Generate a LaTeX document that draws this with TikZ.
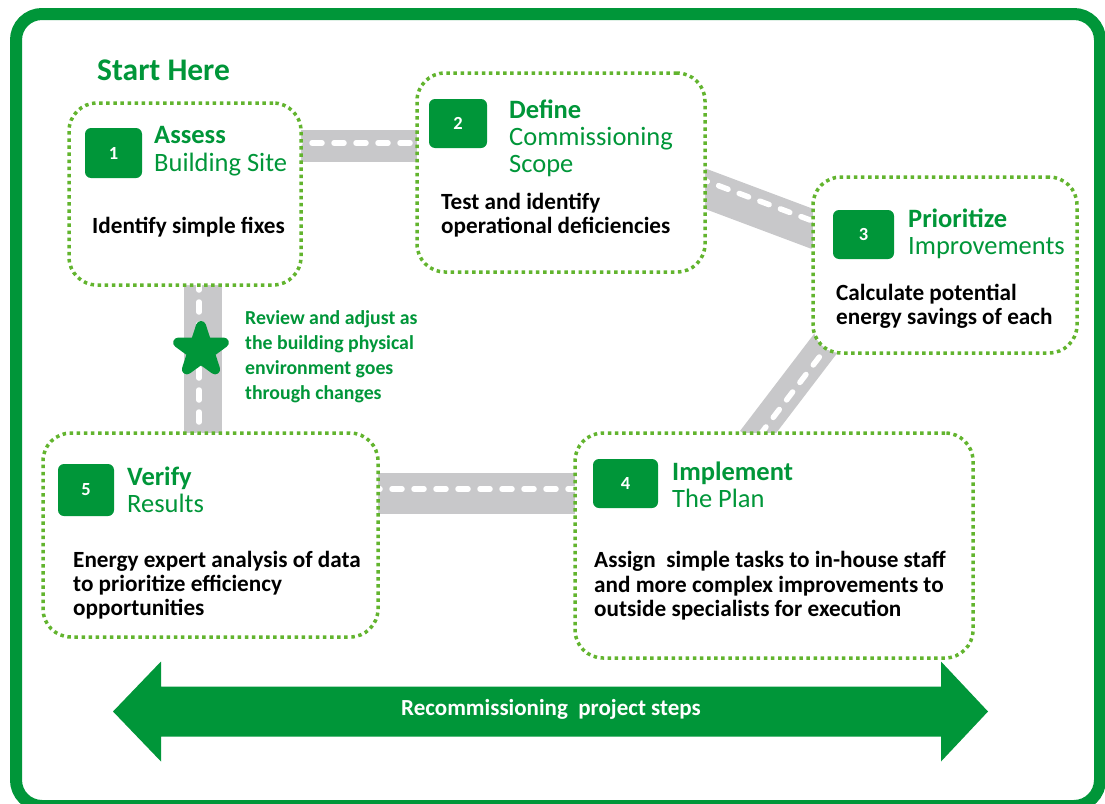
\documentclass[tikz,border=0pt]{standalone}
\usepackage{fontspec}
\setmainfont{Carlito}
\usetikzlibrary{shapes.geometric}
\definecolor{dkgreen}{RGB}{0,150,57}
\definecolor{dotgreen}{RGB}{98,180,46}
\definecolor{roadgray}{RGB}{200,200,202}
\tikzset{
  stepbox/.style={draw=dotgreen, line width=3.5pt, dash pattern=on 3.5pt off 3.6pt, fill=white, rounded corners=28pt, inner sep=0pt},
  numbox/.style={fill=dkgreen, rounded corners=6pt, text=white, font=\bfseries\fontsize{18.5}{18}\selectfont, inner sep=0pt},
  ttl/.style={anchor=base west, text=dkgreen, font=\bfseries\fontsize{26.5}{26}\selectfont, inner sep=0pt},
  sub/.style={anchor=base west, text=dkgreen, font=\fontsize{26.5}{26}\selectfont, inner sep=0pt},
  body/.style={anchor=base west, text=black, font=\bfseries\fontsize{23.2}{24}\selectfont, inner sep=0pt},
  note/.style={anchor=base west, text=dkgreen, font=\bfseries\fontsize{19.8}{25}\selectfont, inner sep=0pt},
  road/.style={draw=roadgray, line width=#1},
  lane/.style={draw=white, line width=5.5pt, line cap=round, dash pattern=on 10pt off 12pt},
}
\begin{document}
\begin{tikzpicture}[x=1pt,y=-1pt]
\useasboundingbox (0,0) rectangle (1105,803);
\clip (0,0) rectangle (1105,803);
\fill[white] (0,0) rectangle (1105,803);
% outer frame
\draw[dkgreen, line width=12pt, rounded corners=26pt] (16,14) rectangle (1100,806);

% road end points
\coordinate (r12a) at (290,146); \coordinate (r12b) at (425,146);
\coordinate (l12a) at (290,143); \coordinate (l12b) at (425,143);
\coordinate (r23a) at (698,186); \coordinate (r23b) at (818,231);
\coordinate (l23a) at (698,178); \coordinate (l23b) at (818,223);
\coordinate (r34a) at (842,322); \coordinate (r34b) at (752,440);
\coordinate (l34a) at (846,322); \coordinate (l34b) at (756,440);
\coordinate (r15a) at (203,280); \coordinate (r15b) at (203,440);
\coordinate (l15a) at (199,280); \coordinate (l15b) at (199,440);
\coordinate (r54a) at (370,493.5); \coordinate (r54b) at (580,493.5);
\coordinate (l54a) at (370,489); \coordinate (l54b) at (580,489);

% roads
\draw[road=32pt] (r12a) -- (r12b);
\draw[lane] (l12a) -- (l12b);
\draw[road=38pt] (r23a) -- (r23b);
\draw[lane] (l23a) -- (l23b);
\draw[road=30pt] (r34a) -- (r34b);
\draw[lane] (l34a) -- (l34b);
\draw[road=38pt] (r15a) -- (r15b);
\draw[lane] (l15a) -- (l15b);
\draw[road=41pt] (r54a) -- (r54b);
\draw[lane] (l54a) -- (l54b);

% step boxes
\node[stepbox, minimum width=232pt, minimum height=182pt] (s1) at (185,194) {};
\node[stepbox, minimum width=288pt, minimum height=199pt] (s2) at (561,172.5) {};
\node[stepbox, minimum width=264pt, minimum height=176pt] (s3) at (945,265) {};
\node[stepbox, minimum width=398pt, minimum height=225pt] (s4) at (774,545.5) {};
\node[stepbox, minimum width=335pt, minimum height=204pt] (s5) at (210.5,535) {};

% number squares
\node[numbox, minimum width=57pt, minimum height=50pt] (n1) at (113.5,153) {1};
\node[numbox, minimum width=58pt, minimum height=49pt] (n2) at (458,123.5) {2};
\node[numbox, minimum width=61pt, minimum height=49pt] (n3) at (863.5,234.5) {3};
\node[numbox, minimum width=65pt, minimum height=49pt] (n4) at (625.5,483.5) {4};
\node[numbox, minimum width=56pt, minimum height=52pt] (n5) at (86,490) {5};

% titles
\node[ttl] (t1) at (154,143) {Assess};
\node[sub] (u1) at (154,171) {Building Site};
\node[ttl] (t2) at (509,118) {Define};
\node[sub] (u2) at (509,145) {Commissioning};
\node[sub] (v2) at (509,172) {Scope};
\node[ttl] (t3) at (908,227) {Prioritize};
\node[sub] (u3) at (908,254) {Improvements};
\node[ttl] (t4) at (672,480) {Implement};
\node[sub] (u4) at (672,507) {The Plan};
\node[ttl] (t5) at (127,485) {Verify};
\node[sub] (u5) at (127,512) {Results};

% bodies
\node[body] (b1a) at (92,233) {Identify simple fixes};
\node[body] (b2a) at (441,209) {Test and identify};
\node[body] (b2b) at (441,233) {operational deficiencies};
\node[body] (b3a) at (836,300) {Calculate potential};
\node[body] (b3b) at (836,324) {energy savings of each};
\node[body] (b4a) at (594,567) {Assign\ \ simple tasks to in-house staff};
\node[body] (b4b) at (594,592) {and more complex improvements to};
\node[body] (b4c) at (594,616) {outside specialists for execution};
\node[body] (b5a) at (73,567) {Energy expert analysis of data};
\node[body] (b5b) at (73,591) {to prioritize efficiency};
\node[body] (b5c) at (73,615) {opportunities};

% start here
\node[anchor=base west, text=dkgreen, font=\bfseries\fontsize{31.5}{30}\selectfont, inner sep=0pt] (start) at (97,80) {Start Here};

% star and note
\node[star, star points=5, star point ratio=2.6, minimum size=48pt, fill=dkgreen, draw=dkgreen, line width=10pt, line join=round, inner sep=0pt] (star) at (201,350) {};
\node[note] (na) at (245,324) {Review and adjust as};
\node[note] (nb) at (245,349) {the building physical};
\node[note] (nc) at (245,374) {environment goes};
\node[note] (nd) at (245,399) {through changes};

% bottom double arrow
\fill[dkgreen] (113,711.5) -- (161,661.5) -- (161,686.5) -- (941,686.5) -- (941,661.5)
  -- (988,711.5) -- (941,761.5) -- (941,736.5) -- (161,736.5) -- (161,761.5) -- cycle;
\node[text=white, font=\bfseries\fontsize{23}{23}\selectfont, inner sep=0pt] (arrowlbl) at (551,709) {Recommissioning\ \ project steps};
\end{tikzpicture}
\end{document}
